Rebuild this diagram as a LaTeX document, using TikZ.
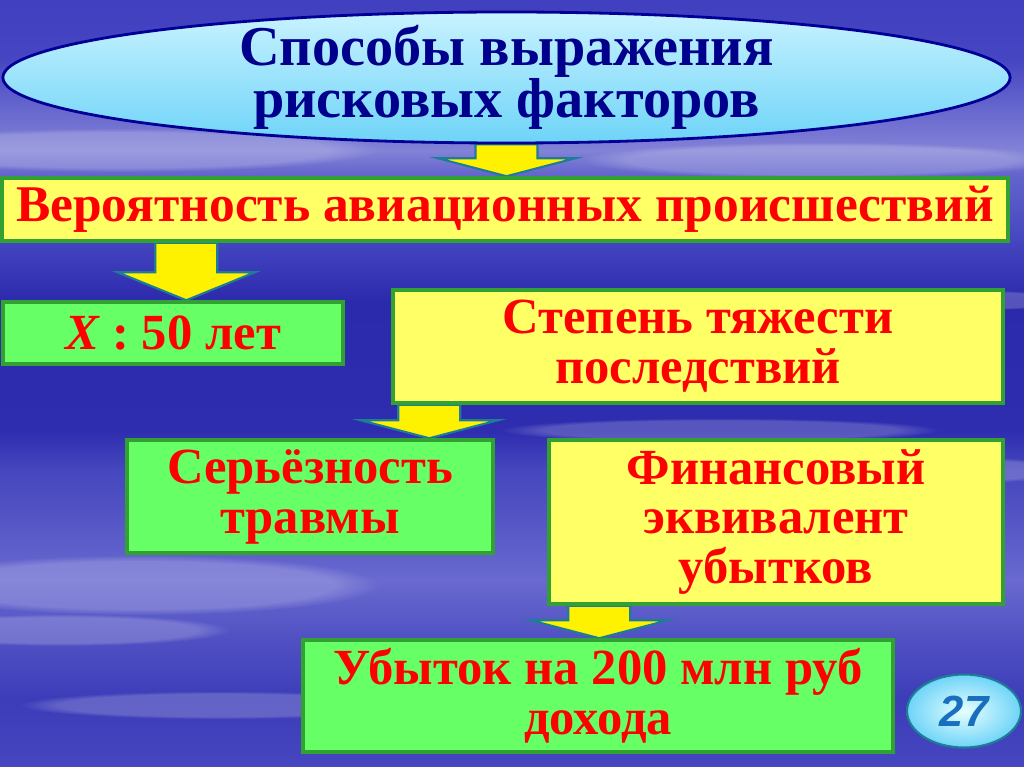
\documentclass[tikz,border=0pt]{standalone}
\usepackage{fontspec}
\setmainfont{Liberation Serif}
\newfontfamily\numfont{Liberation Sans}
\usepackage{tikz}
\usetikzlibrary{shapes.geometric,calc,backgrounds,fadings}

\definecolor{boxyellow}{RGB}{255,255,102}
\definecolor{boxlime}{RGB}{102,255,102}
\definecolor{boxgreen}{RGB}{51,160,51}
\definecolor{txtred}{RGB}{255,0,0}
\definecolor{navytxt}{RGB}{0,0,140}
\definecolor{navyline}{RGB}{0,0,150}
\definecolor{elltop}{RGB}{200,242,255}
\definecolor{ellbot}{RGB}{110,212,248}
\definecolor{arrteal}{RGB}{30,125,150}
\definecolor{numblue}{RGB}{26,110,190}

\pgfdeclareverticalshading{sky}{100bp}{%
  color(0bp)=(rgb,255:red,70;green,70;blue,192);
  color(25bp)=(rgb,255:red,70;green,70;blue,192);
  color(29.4bp)=(rgb,255:red,60;green,60;blue,185);
  color(33.3bp)=(rgb,255:red,80;green,80;blue,195);
  color(37.2bp)=(rgb,255:red,105;green,105;blue,208);
  color(41.1bp)=(rgb,255:red,85;green,85;blue,198);
  color(44.4bp)=(rgb,255:red,70;green,70;blue,190);
  color(47bp)=(rgb,255:red,46;green,44;blue,175);
  color(55.4bp)=(rgb,255:red,44;green,42;blue,172);
  color(58.7bp)=(rgb,255:red,65;green,65;blue,190);
  color(63.6bp)=(rgb,255:red,100;green,100;blue,205);
  color(65.2bp)=(rgb,255:red,130;green,130;blue,215);
  color(71.1bp)=(rgb,255:red,70;green,70;blue,195);
  color(75bp)=(rgb,255:red,64;green,64;blue,192);
  color(100bp)=(rgb,255:red,64;green,64;blue,192)}

% block arrow pointing down: [head height]{from}{tip}
\newcommand{\blockdown}[3][0.45cm]{%
  \draw[blockarr] let \p1=#2, \p2=#3 in
    (\x2-0.775cm,\y1) -- (\x2+0.775cm,\y1) -- (\x2+0.775cm,\y2+#1)
    -- (\x2+1.72cm,\y2+#1) -- (\x2,\y2) -- (\x2-1.72cm,\y2+#1)
    -- (\x2-0.775cm,\y2+#1) -- cycle;}

\begin{document}
\begin{tikzpicture}[x=0.025cm, y=-0.025cm,
    boxtext/.style={font=\bfseries\fontsize{36}{35.5}\selectfont, text=txtred, align=center, inner sep=0pt},
    yellowbox/.style={boxtext, rectangle, draw=boxgreen, line width=2.5pt, fill=boxyellow},
    greenbox/.style={boxtext, rectangle, draw=boxgreen, line width=2.5pt, fill=boxlime},
    blockarr/.style={fill=yellow, draw=arrteal, line width=1.5pt, line join=miter},
    streak/.style={fill=white, opacity=0.2, path fading=circle with fuzzy edge 20 percent}]
  \useasboundingbox (0,0) rectangle (1024,767);

  \node[ellipse, draw=navyline, line width=2pt, top color=elltop, bottom color=ellbot,
        minimum width=25.175cm, minimum height=3.275cm, inner xsep=0pt, inner ysep=-6pt,
        text=navytxt, align=center, font=\bfseries\fontsize{40}{33}\selectfont]
        (ell) at (506.5,77.5) {Способы выражения\\рисковых факторов};

  \node[yellowbox, minimum width=25.15cm, minimum height=1.575cm,
        font=\bfseries\fontsize{36.6}{36}\selectfont] (b1) at (505,209.5)
        {Вероятность авиационных происшествий};
  \node[greenbox, minimum width=8.5cm, minimum height=1.55cm] (b2) at (173,333)
        {\textit{X} : 50 лет};
  \node[yellowbox, minimum width=15.25cm, minimum height=2.825cm] (b3) at (698,346.5)
        {Степень тяжести\\последствий};
  \node[greenbox, minimum width=9.15cm, minimum height=2.825cm] (b4) at (310,496.5)
        {Серьёзность\\травмы};
  \node[yellowbox, minimum width=11.35cm, minimum height=4.1cm] (b5) at (776,522)
        {Финансовый\\эквивалент\\убытков};
  \node[greenbox, minimum width=14.75cm, minimum height=2.8cm] (b6) at (598,696)
        {Убыток на 200 млн руб\\дохода};

  \node[ellipse, draw=arrteal, line width=1.5pt, inner color=white!90!cyan, outer color=ellbot,
        minimum width=2.85cm, minimum height=1.825cm, text=numblue,
        font=\numfont\bfseries\itshape\fontsize{31}{31}\selectfont]
        (pg) at (964,711) {27};

  \begin{pgfonlayer}{background}
    \fill[shading=sky] (0,0) rectangle (1024,767);
    % cloud streaks
    \foreach \cx/\cy/\rx/\ry in {120/150/260/22, 820/160/240/18, 140/585/240/30,
        60/630/170/16, 930/470/150/14, 720/430/220/12, 220/705/200/14, 980/300/90/10}
      \fill[streak] (\cx,\cy) ellipse[x radius=\rx, y radius=\ry];
    \blockdown{(ell.south)}{(ell.south |- b1.north)}
    \blockdown[0.7cm]{(b1.south)}{([xshift=4.625cm]b2.north west)}
    \blockdown{(b3.south)}{([xshift=7.6cm]b4.north west)}
    \blockdown{(b5.south)}{([xshift=7.45cm]b6.north west)}
  \end{pgfonlayer}
\end{tikzpicture}
\end{document}
